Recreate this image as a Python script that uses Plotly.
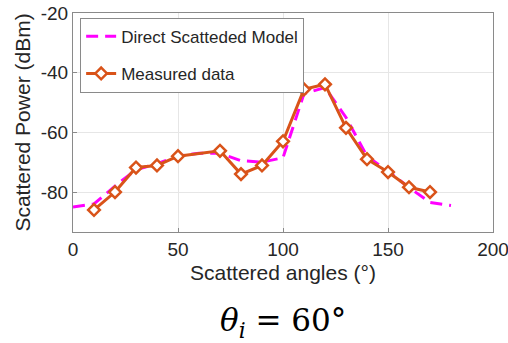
import plotly.graph_objects as go

# Model curve (dBm) vs scattered angle (deg)
model_angles = [0, 10, 20, 30, 40, 50, 60, 70, 80, 90, 100, 110, 120, 130, 140, 150, 160, 170, 180]
model_power = [-85, -84, -78, -72.5, -70.5, -68, -67, -67, -69.5, -70, -68.5, -47, -45, -55, -68, -73, -78.5, -83.5, -84.5]

# Measured points
meas_angles = [10, 20, 30, 40, 50, 70, 80, 90, 100, 110, 120, 130, 140, 150, 160, 170]
meas_power = [-86, -80, -71.8, -71.1, -68, -66.2, -74, -71.1, -63, -45.6, -43.9, -58.5, -69, -73.3, -78.4, -80]

x_ticks = [0, 50, 100, 150, 200]
y_ticks = [-80, -60, -40, -20]
y_tick_text = ["-80", "-60", "-40", "-20"]

ORANGE = "#D95319"
MAGENTA = "#FF00FF"
FONT = "Liberation Sans, Arial, sans-serif"
TXT = "#262626"

fig = go.Figure()
fig.add_trace(go.Scatter(
    x=model_angles, y=model_power, mode="lines",
    name="Direct Scatteded Model", legendgroup="a",
    line=dict(color=MAGENTA, width=3, dash="12px,7px"),
))
fig.add_trace(go.Scatter(
    x=meas_angles, y=meas_power, mode="lines+markers",
    name="Measured data", legendgroup="b",
    line=dict(color=ORANGE, width=3),
    marker=dict(symbol="diamond", size=9, color="white",
                line=dict(color=ORANGE, width=2.5)),
))

axis_common = dict(
    showline=True, linecolor="#8a8a8a", linewidth=1, mirror=True,
    ticks="inside", ticklen=4, tickcolor="#8a8a8a",
    showgrid=True, gridcolor="#e6e6e6", gridwidth=1,
    zeroline=False, automargin=False, ticklabeloverflow="allow",
    tickfont=dict(family=FONT, size=19, color=TXT),
)

fig.update_layout(
    width=508, height=343,
    margin=dict(l=73, r=15, t=13, b=111),
    paper_bgcolor="white", plot_bgcolor="white",
    showlegend=True,
    legend=dict(
        x=0.017, y=0.978, xanchor="left", yanchor="top",
        bgcolor="white", bordercolor="#8a8a8a", borderwidth=1,
        font=dict(family=FONT, size=17, color=TXT),
        itemwidth=30, tracegroupgap=12,
    ),
    xaxis=dict(range=[0, 200], tickvals=x_ticks, **axis_common,
               title=dict(text="Scattered angles (°)", standoff=6,
                          font=dict(family=FONT, size=21, color=TXT))),
    yaxis=dict(range=[-93.4, -20], tickvals=y_ticks, ticktext=y_tick_text, **axis_common,
               title=dict(text="Scattered Power (dBm)", standoff=4,
                          font=dict(family=FONT, size=21, color=TXT))),
)

fig.add_annotation(
    text="<i>θ<sub>i</sub></i> = 60°", xref="paper", yref="paper",
    x=0.5, y=-0.413, xanchor="center", yanchor="middle", showarrow=False,
    font=dict(family="DejaVu Serif, Liberation Serif, serif", size=31, color="black"),
)

fig.write_html("out.html")
